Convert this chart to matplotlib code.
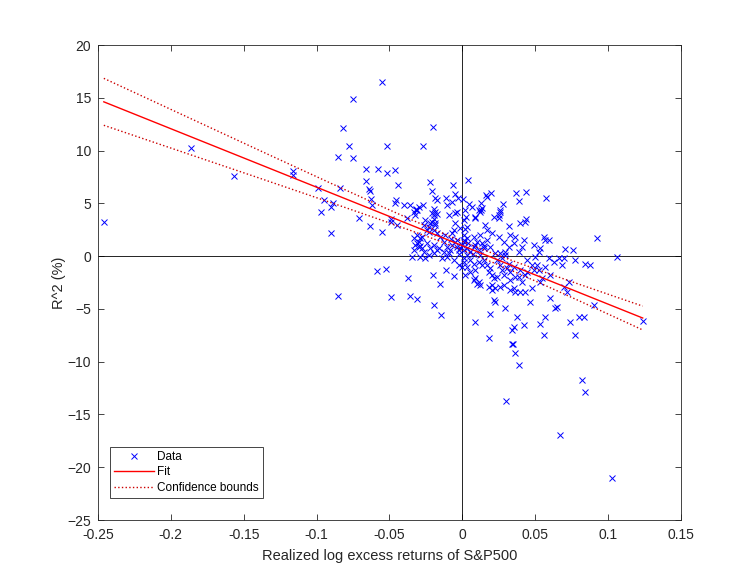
import numpy as np
import matplotlib.pyplot as plt

plt.rcParams['font.family'] = ['Liberation Sans', 'DejaVu Sans']

# realized log excess returns of S&P500 (x) and R^2 in % (y)
ret = [
    -0.246, -0.186, -0.157, -0.1165, -0.1165, -0.055, -0.075, -0.082, -0.020, -0.078,
    -0.052, -0.027, -0.085, -0.075, -0.066, -0.058, -0.052, -0.046, -0.066, -0.064,
    -0.0635, -0.044, -0.099, -0.084, -0.022, -0.021, -0.0066, 0.004, -0.063, -0.062,
    -0.095, -0.089, -0.090, -0.097, -0.0455, -0.046, -0.040, -0.036, -0.032, -0.0316,
    -0.030, -0.027, -0.0185, -0.0174, -0.011, -0.005, -0.007, -0.0105, 0.0005, 0.0044,
    -0.0048, -0.0094, -0.0192, -0.0185, -0.0197, -0.0174, -0.071, -0.049, -0.038, 0.0025,
    0.0165, 0.0197, 0.0368, 0.0437, 0.0386, 0.0574, 0.0066, 0.0128, 0.0135, 0.0119,
    0.0128, 0.0277, 0.0256, 0.025, 0.0085, 0.0215, 0.025, 0.0437, -0.0636, -0.055,
    -0.090, -0.049, -0.0448, -0.0586, -0.0522, -0.0375, -0.0204, -0.0156, -0.0115, -0.0055,
    -0.0856, -0.0487, -0.0362, -0.0314, -0.0197, -0.0146, -0.0002, 0.001, -0.0334, -0.0311,
    -0.0322, -0.0208, -0.0197, -0.0185, -0.022, -0.0231, -0.0036, -0.0048, -0.006, -0.007,
    0.001, 0.002, -0.0311, -0.0334, -0.030, -0.0277, -0.0322, -0.030, -0.0277, -0.0334,
    -0.0266, -0.0242, -0.022, -0.0197, -0.0174, -0.0197, -0.0231, -0.0254, -0.0151, -0.0128,
    -0.0105, -0.0128, -0.014, -0.0105, -0.0082, -0.007, -0.0036, -0.0025, -0.0014, -0.0002,
    0.001, -0.0036, -0.006, -0.002, 0.001, -0.0266, -0.0242, -0.0254, -0.0345, -0.0288,
    0.002, 0.0112, 0.026, 0.0318, 0.0398, 0.0432, 0.0158, 0.017, 0.0204, 0.0124,
    0.0078, 0.0032, 0.001, 0.0101, 0.0135, 0.017, 0.0192, 0.0146, 0.0112, 0.0078,
    0.0055, 0.0032, 0.001, 0.025, 0.0283, 0.033, 0.0364, 0.0352, 0.0318, 0.0421,
    0.041, 0.0386, 0.0226, 0.026, 0.0295, 0.0489, 0.0535, 0.0558, 0.057, 0.0592,
    0.0524, 0.0707, 0.076, 0.0924, 0.1062, 0.0844, 0.0878, 0.0776, 0.0695, 0.0661,
    0.0592, 0.0626, 0.0684, 0.057, 0.0604, 0.0512, 0.0524, 0.0547, 0.0535, 0.073,
    0.0695, 0.0718, 0.0901, 0.0604, 0.065, 0.0638, 0.0741, 0.0798, 0.0832, 0.057,
    0.0535, 0.0558, 0.0776, 0.0421, 0.0375, 0.0352, 0.0341, 0.0341, 0.018, 0.0089,
    0.0187, 0.0295, 0.0215, 0.0226, 0.0467, 0.0478, 0.0432, 0.0398, 0.0364, 0.0352,
    0.033, 0.041, 0.0386, 0.0432, 0.0398, 0.0364, 0.033, 0.0283, 0.026, 0.0204,
    0.0204, 0.0226, 0.018, 0.0124, 0.0101, 0.0078, 0.0089, 0.0112, 0.018, 0.0192,
    0.017, 0.0204, 0.0215, 0.0238, 0.0283, 0.0055, 0.0078, 0.0032, 0.001, 0.0112,
    0.0135, 0.0146, 0.0089, 0.0055, 0.002, 0.0318, 0.0352, 0.033, 0.0307, 0.0272,
    0.026, 0.0238, 0.0272, 0.0295, 0.0444, 0.0478, 0.0501, 0.0489, 0.0444, 0.0348,
    0.0359, 0.0386, 0.0821, 0.0839, 0.030, 0.0668, 0.1025, 0.1237, -0.0174, -0.0208,
    -0.0185, -0.0231, -0.0197, -0.0288, -0.0311, -0.0288, -0.008, -0.012, -0.005, 0.004,
    0.007, -0.002, 0.003, -0.016, 0.012, 0.015, 0.009, -0.009, -0.003, 0.017,
    0.0089, 0.0034, -0.0014,
]
r2 = [
    3.2, 10.25, 7.55, 8.1, 7.7, 16.45, 14.9, 12.1, 12.2, 10.45,
    10.4, 10.45, 9.35, 9.25, 8.3, 8.3, 7.9, 8.2, 7.1, 6.4,
    6.2, 6.7, 6.5, 6.5, 7.0, 6.2, 6.7, 7.2, 5.4, 4.8,
    5.3, 5.0, 4.7, 4.2, 5.3, 5.0, 4.8, 4.8, 4.4, 4.5,
    4.7, 4.8, 5.5, 5.3, 5.5, 5.9, 5.1, 4.8, 5.4, 4.9,
    4.1, 3.9, 4.5, 4.2, 3.9, 4.0, 3.6, 3.5, 3.6, 3.7,
    5.8, 6.0, 6.0, 6.1, 5.2, 5.5, 4.7, 5.0, 4.6, 4.2,
    4.4, 4.9, 4.4, 3.9, 3.7, 3.7, 3.6, 3.5, 2.85, 2.3,
    2.15, 3.25, 2.95, -1.4, -1.25, -2.1, -1.8, -2.65, -1.3, -1.9,
    -3.75, -3.9, -3.75, -4.1, -4.6, -5.6, -1.0, -0.2, 4.2, 4.35,
    3.9, 4.05, 3.55, 3.1, 3.1, 2.8, 4.2, 3.1, 2.45, 2.15,
    3.4, 2.6, 2.0, 1.7, 1.35, 1.85, 1.05, 0.9, 0.75, 0.55,
    0.4, 1.2, 0.75, 1.05, 0.55, 0.25, 0.1, -0.2, 1.85, 1.35,
    0.9, 0.4, -0.2, -0.05, 0.55, 1.05, 0.9, 0.55, 0.75, 1.05,
    1.5, 1.5, -0.4, -0.8, 2.0, 2.95, 2.45, 3.4, -0.05, -0.05,
    4.35, 4.35, 4.2, 2.85, 3.1, 3.25, 2.95, 2.45, 2.15, 2.0,
    1.85, 1.7, 1.35, 1.35, 1.2, 1.5, 0.9, 0.75, 0.55, 0.9,
    0.4, 0.75, 0.55, 1.85, 1.35, 2.0, 1.85, 1.2, 0.9, 1.5,
    0.9, 0.4, 0.25, 0.25, 0.4, 1.05, 0.75, 1.85, 1.5, 1.5,
    0.4, 0.65, 0.55, 1.7, -0.1, -0.75, -0.85, -0.4, -0.2, -0.2,
    -0.2, -0.55, -0.85, -1.0, -1.8, -0.85, -1.3, -2.1, -2.45, -2.45,
    -2.9, -3.4, -4.6, -4.0, -4.8, -4.95, -6.2, -5.75, -5.75, -5.75,
    -6.4, -7.5, -7.5, -6.55, -5.75, -6.7, -7.0, -8.3, -7.8, -6.2,
    -5.45, -4.95, -4.15, -4.35, -4.35, -3.05, -3.4, -3.4, -3.4, -3.05,
    -3.2, -2.45, -1.95, -1.8, -1.3, -1.95, -2.25, -2.75, -2.9, -2.75,
    -3.2, -3.05, -2.9, -2.75, -2.6, -2.25, -2.1, -2.45, -1.5, -1.15,
    -0.85, -1.8, -2.1, -1.95, -1.8, -0.4, -0.7, -1.0, -0.55, -0.55,
    -0.85, -0.4, -1.3, -1.5, -1.8, -0.7, -1.0, -1.5, -1.15, -1.3,
    -0.85, -0.4, -0.2, 0.1, -0.4, -0.85, -0.05, -1.3, -1.5, -8.3,
    -9.2, -10.3, -11.75, -12.9, -13.75, -16.9, -21.05, -6.1, 2.15, 3.25,
    2.95, 2.3, 2.45, 1.7, 1.2, 1.0, 1.6, 2.0, 1.3, 1.2,
    0.2, 0.2, 0.1, 0.8, 0.1, 1.0, 1.1, 0.3, 5.5, 5.6,
    3.6, 2.75, 2.65,
]

# fitted line
fit_intercept = 0.99
fit_slope = -55.4

x = np.array(ret)
y = np.array(r2)

# 95% confidence bounds on the fitted line
n = len(x)
resid = y - (fit_intercept + fit_slope * x)
s = np.sqrt(np.sum(resid ** 2) / (n - 2))
sxx = np.sum((x - x.mean()) ** 2)
xf = np.linspace(x.min(), x.max(), 200)
yf = fit_intercept + fit_slope * xf
hw = 1.968 * s * np.sqrt(1.0 / n + (xf - x.mean()) ** 2 / sxx)

ink = '#262626'
fig = plt.figure(figsize=(7.52, 5.87), dpi=100)
ax = fig.add_axes([0.1303, 0.1141, 0.7753, 0.8092])

ax.axhline(0, color='k', lw=0.6)
ax.axvline(0, color='k', lw=0.6)
ax.plot(x, y, 'x', color='blue', markersize=5, markeredgewidth=0.7, label='Data')
ax.plot(xf, yf, '-', color='red', lw=1.0, label='Fit')
ax.plot(xf, yf + hw, ':', color='#cc0000', lw=1.0, label='Confidence bounds')
ax.plot(xf, yf - hw, ':', color='#cc0000', lw=1.0)

ax.set_xlim(-0.25, 0.15)
ax.set_ylim(-25, 20)
ax.set_xticks(np.arange(-0.25, 0.151, 0.05))
ax.set_xticklabels(['-0.25', '-0.2', '-0.15', '-0.1', '-0.05', '0', '0.05', '0.1', '0.15'])
ax.set_yticks(np.arange(-25, 21, 5))
ax.tick_params(direction='in', length=4, width=0.6, colors=ink, labelsize=10,
               top=True, right=True)
ax.tick_params(axis='x', pad=6)
ax.tick_params(axis='y', pad=5)
for sp in ax.spines.values():
    sp.set_color(ink)
    sp.set_linewidth(0.6)

ax.set_xlabel('Realized log excess returns of S&P500', fontsize=10.5, color=ink, labelpad=5)
ax.set_ylabel('R^2 (%)', fontsize=10.5, color=ink, labelpad=1)

leg = ax.legend(loc='lower left', bbox_to_anchor=(0.02, 0.046), borderaxespad=0,
                fontsize=8.5, fancybox=False, framealpha=1, edgecolor=ink,
                handlelength=3.4, handletextpad=0.3, labelspacing=0.3, borderpad=0.35)
leg.get_frame().set_linewidth(0.6)

fig.savefig('out.png', dpi=100)
plt.close()
